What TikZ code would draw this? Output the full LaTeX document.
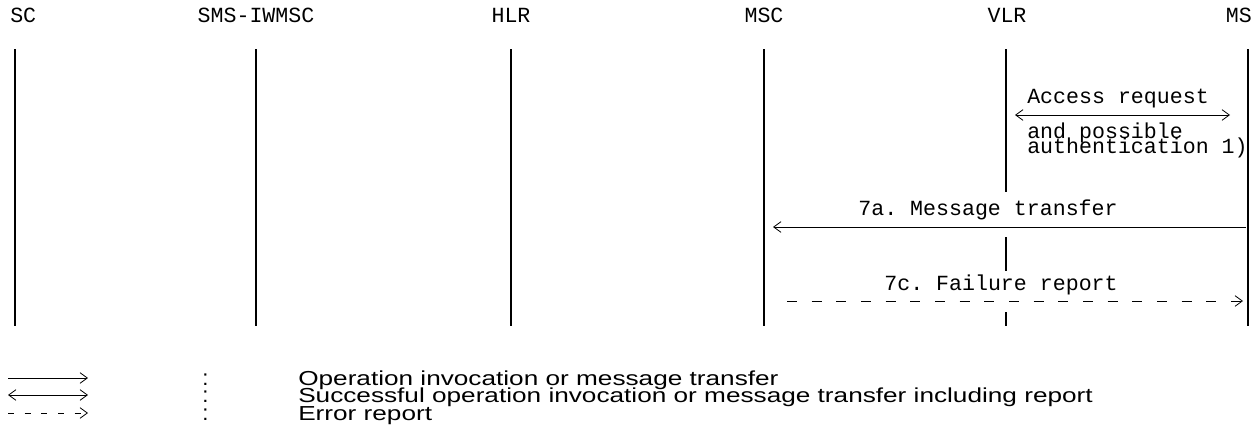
\documentclass[tikz,border=0pt]{standalone}
\usepackage{fontspec}
\setmonofont{Liberation Mono}
\setsansfont{Liberation Sans}
\usetikzlibrary{arrows.meta}

\begin{document}
\begin{tikzpicture}[x=0.75pt,y=-0.75pt]
    \tikzset{
        life/.style={line width=1.1pt},
        tip/.tip={Straight Barb[length=5.5pt,width=8pt,line width=0.6pt]},
        msg/.style={line width=0.6pt,-tip},
        both/.style={line width=0.6pt,tip-tip},
        err/.style={line width=0.6pt,dash pattern=on 7.5pt off 11pt,-tip},
        mono/.style={font=\ttfamily\fontsize{16.2}{12}\selectfont,inner sep=0pt},
        expl/.style={font=\sffamily\fontsize{16.5}{14}\selectfont,inner sep=0pt,anchor=base west},
    }
    \useasboundingbox (0,0) rectangle (1255,446);
    % entities
    \node[mono,anchor=base west] (sc) at (10,22) {SC};
    \node[mono,anchor=base] (iw) at (256,22) {SMS-IWMSC};
    \node[mono,anchor=base] (hlr) at (511,22) {HLR};
    \node[mono,anchor=base] (msc) at (764,22) {MSC};
    \node[mono,anchor=base] (vlr) at (1007,22) {VLR};
    \node[mono,anchor=base east] (ms) at (1252,22) {MS};
    % lifelines
    \foreach \n/\x in {sc/15,iw/256,hlr/511,msc/764,ms/1248}{
        \coordinate (\n-t) at (\x,49);
        \coordinate (\n-b) at (\x,326);
        \draw[life] (\n-t) -- (\n-b);
    }
    \coordinate (vlr-t) at (1006,49);
    \coordinate (vlr-1) at (1006,192);
    \coordinate (vlr-2) at (1006,237);
    \coordinate (vlr-3) at (1006,271);
    \coordinate (vlr-4) at (1006,312);
    \coordinate (vlr-b) at (1006,326);
    \draw[life] (vlr-t) -- (vlr-1) (vlr-2) -- (vlr-3) (vlr-4) -- (vlr-b);
    % access request
    \coordinate (acc-l) at (1015,115);
    \coordinate (acc-r) at (1230,115);
    \draw[both] (acc-l) -- (acc-r);
    \node[mono,anchor=base west] (acc) at (1027,103) {Access request};
    \node[mono,anchor=base west] (poss) at (1027,138) {and possible};
    \node[mono,anchor=base west] (auth) at (1027,153) {authentication 1)};
    % 7a
    \coordinate (7a-r) at (1246,227);
    \coordinate (7a-l) at (773,227);
    \draw[msg] (7a-r) -- (7a-l);
    \node[mono,anchor=base] (m7a) at (988,215) {7a. Message transfer};
    % 7c
    \coordinate (7c-l) at (787,301);
    \coordinate (7c-r) at (1243,301);
    \draw[err] (7c-l) -- (7c-r);
    \node[mono,anchor=base] (m7c) at (1001,290) {7c. Failure report};
    % legend
    \foreach \i/\y/\txt in {1/378/Operation invocation or message transfer,
            2/395/Successful operation invocation or message transfer including report,
            3/413/Error report}{
        \coordinate (k\i-l) at (8,\y);
        \coordinate (k\i-r) at (88,\y);
        \node[expl] (c\i) at (202,\y+7) {:};
        \node[expl] (t\i) at (298,\y+7) {\scalebox{1.19}[0.92]{\txt}};
    }
    \draw[msg] (k1-l) -- (k1-r);
    \draw[both] (k2-l) -- (k2-r);
    \draw[msg,dash pattern=on 4.5pt off 8pt] (k3-l) -- (k3-r);
\end{tikzpicture}
\end{document}
